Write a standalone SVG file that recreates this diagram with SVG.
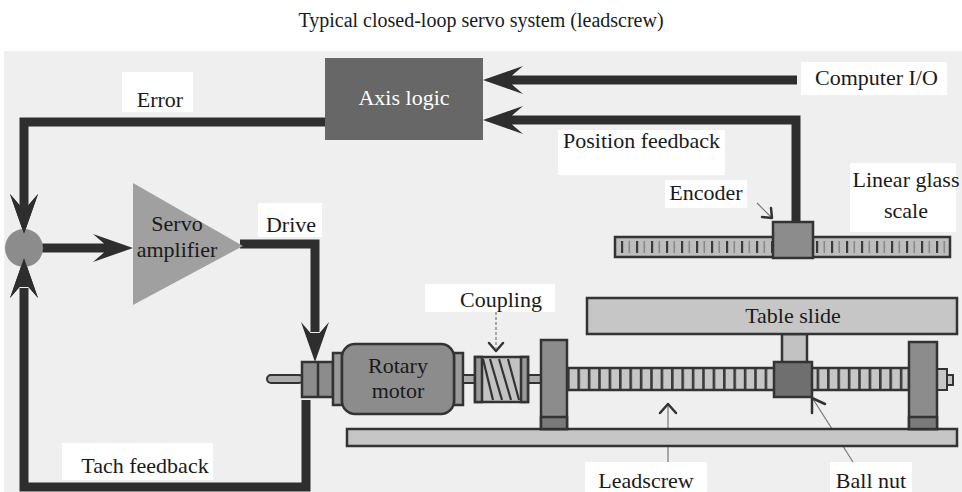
<svg xmlns="http://www.w3.org/2000/svg" width="962" height="492" viewBox="0 0 962 492">
  <defs>
    <style>
      .lbl { font-family: "Liberation Serif", "Times New Roman", serif; font-size: 22px; fill: #1a1a1a; }
      .title { font-family: "Liberation Serif", "Times New Roman", serif; font-size: 20px; fill: #1a1a1a; }
      .wbox { fill: #ffffff; }
      .wire { fill: none; stroke: #2e2e2e; stroke-width: 9; stroke-linejoin: miter; }
      .head { fill: #2e2e2e; }
      .part { stroke: #333; stroke-width: 2.5; }
      .ptr { fill: none; stroke: #333; stroke-width: 2.5; stroke-linecap: round; stroke-linejoin: round; }
      .lead { fill: none; stroke: #777; stroke-width: 1.2; }
    </style>
    <!-- notched arrowhead, tip at origin, body along +x -->
    <path id="ahead" d="M0,0 L40,-14 L29,-4.5 L29,4.5 L40,14 Z"/>
    <pattern id="threads" x="567" y="0" width="10.4" height="40" patternUnits="userSpaceOnUse">
      <rect x="0" y="0" width="10.4" height="40" fill="#c6c6c6"/>
      <rect x="0" y="0" width="2.6" height="40" fill="#3a3a3a"/>
    </pattern>
    <pattern id="ticks" x="621" y="0" width="15" height="30" patternUnits="userSpaceOnUse">
      <rect x="0" y="0" width="15" height="30" fill="#bdbdbd"/>
      <rect x="0" y="0" width="2.2" height="30" fill="#3a3a3a"/>
      <rect x="7.5" y="0" width="1.6" height="30" fill="#8a8a8a"/>
    </pattern>
  </defs>

  <!-- page and panel -->
  <rect x="0" y="0" width="962" height="492" fill="#ffffff"/>
  <rect x="4" y="51" width="958" height="441" fill="#efefef"/>

  <text class="title" x="481" y="27" text-anchor="middle">Typical closed-loop servo system (leadscrew)</text>

  <!-- label backgrounds -->
  <g id="label-backgrounds">
    <rect class="wbox" x="122" y="72" width="71" height="40"/>
    <rect class="wbox" x="258" y="203" width="64" height="34"/>
    <rect class="wbox" x="801" y="62" width="146" height="33"/>
    <rect class="wbox" x="558" y="130" width="167" height="45"/>
    <rect class="wbox" x="665" y="180" width="82" height="28"/>
    <rect class="wbox" x="850" y="163" width="106" height="69"/>
    <rect class="wbox" x="425" y="284" width="130" height="28"/>
    <rect class="wbox" x="62" y="443" width="151" height="37"/>
    <rect class="wbox" x="585" y="462" width="122" height="30"/>
    <rect class="wbox" x="830" y="462" width="82" height="30"/>
  </g>

  <!-- connectors -->
  <g id="connectors">
    <!-- Computer I/O into axis logic -->
    <path class="wire" d="M797,80 H512"/>
    <use href="#ahead" class="head" transform="translate(483,80)"/>
    <!-- position feedback from encoder -->
    <path class="wire" d="M796,223 V120 H512"/>
    <use href="#ahead" class="head" transform="translate(483,120)"/>
    <!-- error to summing junction -->
    <path class="wire" d="M326,122 H24 V205"/>
    <use href="#ahead" class="head" transform="translate(24,234) rotate(-90)"/>
    <!-- junction to amplifier -->
    <path class="wire" d="M40,248 H104"/>
    <use href="#ahead" class="head" transform="translate(133,248) rotate(180)"/>
    <!-- drive to motor -->
    <path class="wire" d="M240,244 H315 V332"/>
    <use href="#ahead" class="head" transform="translate(315,362) rotate(-90)"/>
    <!-- tach feedback -->
    <path class="wire" d="M306,400 V487 H24 V288"/>
    <use href="#ahead" class="head" transform="translate(24,258) rotate(90)"/>

    <!-- label pointers -->
    <path class="lead" d="M757,203 L771,217"/>
    <path class="ptr" d="M762,217 L772,218 L771,208"/>
    <path class="lead" d="M496,312 V348" stroke-dasharray="3 2"/>
    <path class="ptr" d="M489,343 L496,351 L503,343"/>
    <path class="lead" d="M668,405 V462"/>
    <path class="ptr" d="M660,413 L668,404 L676,413" stroke-width="3"/>
    <path class="lead" d="M853,462 L813,399"/>
    <path class="ptr" d="M812,413 V398 L825,404" stroke-width="3"/>
  </g>

  <!-- axis logic -->
  <g id="axis-logic">
    <rect x="325" y="58" width="158" height="82" fill="#676767"/>
    <text class="lbl" x="404" y="105" text-anchor="middle" style="fill:#ffffff">Axis logic</text>
  </g>

  <!-- summing junction -->
  <g id="summing-junction">
    <circle cx="24" cy="248" r="19" fill="#8c8c8c"/>
    <use href="#ahead" class="head" transform="translate(24,234) rotate(-90)"/>
    <use href="#ahead" class="head" transform="translate(24,258) rotate(90)"/>
  </g>

  <!-- servo amplifier -->
  <g id="servo-amplifier">
    <polygon points="133,183 243,246 133,305" fill="#a0a0a0"/>
    <text class="lbl" x="177" y="231" text-anchor="middle">Servo</text>
    <text class="lbl" x="177" y="257" text-anchor="middle">amplifier</text>
  </g>

  <!-- linear glass scale -->
  <g id="linear-scale">
    <rect class="part" x="615" y="237" width="335" height="20" fill="#bdbdbd"/>
    <rect x="618" y="241" width="329" height="12" fill="url(#ticks)"/>
  </g>

  <!-- encoder -->
  <g id="encoder">
    <rect class="part" x="773" y="222" width="40" height="36" fill="#8c8c8c"/>
  </g>

  <!-- base plate -->
  <g id="base">
    <rect class="part" x="347" y="429" width="610" height="17" fill="#c6c6c6"/>
  </g>

  <!-- tachometer -->
  <g id="tach">
    <rect x="267" y="375" width="36" height="8" rx="4" fill="#ababab" stroke="#333" stroke-width="2"/>
    <rect class="part" x="302" y="362" width="31" height="35" fill="#8c8c8c"/>
    <line x1="318" y1="362" x2="318" y2="397" stroke="#333" stroke-width="2.5"/>
  </g>

  <!-- rotary motor -->
  <g id="motor">
    <rect class="part" x="333" y="353" width="9" height="52" fill="#9a9a9a"/>
    <rect class="part" x="454" y="353" width="9" height="52" fill="#9a9a9a"/>
    <rect class="part" x="342" y="344" width="112" height="70" rx="13" fill="#8c8c8c"/>
    <text class="lbl" x="398" y="373" text-anchor="middle">Rotary</text>
    <text class="lbl" x="398" y="398" text-anchor="middle">motor</text>
  </g>

  <!-- coupling with shafts -->
  <g id="coupling">
    <rect x="463" y="375" width="13" height="8" fill="#ababab" stroke="#333" stroke-width="2"/>
    <rect x="527" y="375" width="14" height="8" fill="#ababab" stroke="#333" stroke-width="2"/>
    <rect class="part" x="475" y="357" width="53" height="45" fill="#c2c2c2"/>
    <rect class="part" x="475" y="357" width="7" height="45" fill="#999999"/>
    <rect class="part" x="521" y="357" width="7" height="45" fill="#999999"/>
    <g stroke="#333" stroke-width="2.2">
      <line x1="483" y1="359" x2="493" y2="400"/>
      <line x1="490" y1="359" x2="502" y2="400"/>
      <line x1="499" y1="359" x2="511" y2="400"/>
      <line x1="508" y1="359" x2="519" y2="400"/>
    </g>
  </g>

  <!-- leadscrew -->
  <g id="leadscrew">
    <rect class="part" x="567" y="368" width="342" height="22" fill="url(#threads)"/>
    <rect x="937" y="369" width="10" height="21" fill="#c6c6c6" stroke="#333" stroke-width="2"/>
    <rect x="947" y="375" width="6" height="10" fill="#c6c6c6" stroke="#333" stroke-width="2"/>
  </g>

  <!-- bearing blocks -->
  <g id="bearing-left">
    <rect class="part" x="541" y="340" width="26" height="89" fill="#8c8c8c"/>
    <rect class="part" x="541" y="417" width="26" height="12" fill="#7a7a7a"/>
  </g>
  <g id="bearing-right">
    <rect class="part" x="909" y="342" width="28" height="87" fill="#8c8c8c"/>
    <rect class="part" x="909" y="417" width="28" height="12" fill="#7a7a7a"/>
  </g>

  <!-- table slide and nut -->
  <g id="table-slide">
    <rect class="part" x="782" y="334" width="25" height="29" fill="#c2c2c2"/>
    <rect class="part" x="587" y="298" width="370" height="36" fill="#c6c6c6"/>
    <text class="lbl" x="793" y="323" text-anchor="middle">Table slide</text>
  </g>
  <g id="ball-nut">
    <rect class="part" x="774" y="362" width="38" height="35" fill="#6f6f6f"/>
  </g>

  <!-- labels -->
  <g id="labels">
    <text class="lbl" x="160" y="107" text-anchor="middle">Error</text>
    <text class="lbl" x="291" y="232" text-anchor="middle">Drive</text>
    <text class="lbl" x="815" y="85">Computer I/O</text>
    <text class="lbl" x="563" y="148">Position feedback</text>
    <text class="lbl" x="706" y="200" text-anchor="middle">Encoder</text>
    <text class="lbl" x="906" y="187" text-anchor="middle">Linear glass</text>
    <text class="lbl" x="906" y="218" text-anchor="middle">scale</text>
    <text class="lbl" x="501" y="307" text-anchor="middle">Coupling</text>
    <text class="lbl" x="145" y="473" text-anchor="middle">Tach feedback</text>
    <text class="lbl" x="646" y="488" text-anchor="middle">Leadscrew</text>
    <text class="lbl" x="871" y="488" text-anchor="middle">Ball nut</text>
  </g>
</svg>
